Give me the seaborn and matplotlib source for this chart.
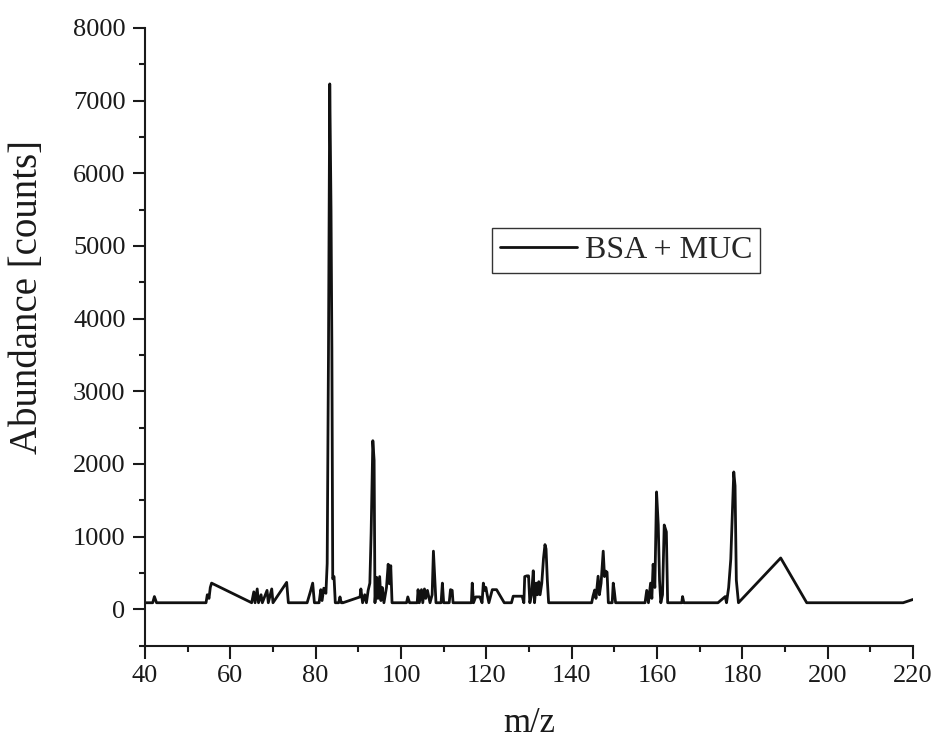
import numpy as np
import pandas as pd
import matplotlib
matplotlib.use("Agg")
import matplotlib.pyplot as plt
from matplotlib.ticker import MultipleLocator
import seaborn as sns

# spectrum (m/z, counts)
mz = [40.0, 41.8, 42.2, 42.7, 54.3, 54.6, 55.0, 55.3, 55.6, 65.0,
      65.5, 65.8, 66.3, 66.6, 67.2, 67.5, 68.6, 68.9, 69.7, 70.0,
      73.2, 73.6, 78.0, 78.8, 79.3, 79.7, 80.8, 81.2, 81.5, 81.9,
      82.4, 82.7, 83.0, 83.3, 83.6, 83.8, 84.0, 84.3, 84.6, 85.4,
      85.7, 86.0, 86.4, 90.4, 90.6, 91.0, 91.5, 91.9, 92.3, 92.7,
      93.0, 93.4, 93.7, 93.9, 94.3, 94.6, 95.0, 95.3, 95.6, 96.0,
      96.6, 97.0, 97.3, 97.6, 97.9, 101.3, 101.6, 102.0, 103.8, 104.0,
      104.3, 104.8, 105.1, 105.5, 105.8, 106.2, 106.8, 107.3, 107.6, 107.9,
      108.2, 109.4, 109.7, 110.0, 111.3, 111.6, 112.0, 112.2, 116.5, 116.7,
      117.0, 117.5, 118.5, 119.0, 119.3, 119.6, 119.9, 120.2, 120.6, 121.4,
      122.4, 124.2, 125.9, 126.3, 128.4, 128.8, 129.0, 129.5, 129.9, 130.2,
      130.6, 131.0, 131.3, 131.7, 132.0, 132.3, 132.6, 133.0, 133.4, 133.75,
      134.0, 134.3, 134.6, 144.7, 145.0, 145.4, 145.7, 146.2, 146.5, 146.9,
      147.4, 147.7, 148.0, 148.3, 148.6, 149.5, 149.75, 150.0, 150.3, 157.2,
      157.6, 158.0, 158.5, 158.8, 159.1, 159.5, 159.9, 160.3, 160.6, 160.9,
      161.3, 161.7, 162.2, 162.5, 165.8, 166.0, 166.3, 174.3, 176.0, 176.3,
      176.8, 177.3, 178.0, 178.3, 178.6, 179.1, 189.0, 195.1, 217.7, 220.0]
counts = [90, 90, 175, 90, 90, 200, 150, 300, 360, 90,
          240, 90, 280, 90, 200, 90, 260, 90, 280, 90,
          370, 90, 90, 250, 360, 90, 90, 270, 120, 290,
          220, 630, 3500, 7230, 5500, 3600, 420, 450, 90, 90,
          170, 90, 90, 170, 280, 90, 200, 90, 260, 360,
          1050, 2320, 2050, 90, 440, 150, 450, 120, 300, 90,
          300, 620, 350, 600, 90, 90, 170, 90, 90, 270,
          90, 270, 90, 280, 150, 260, 90, 200, 800, 450,
          90, 90, 360, 90, 90, 270, 260, 90, 90, 360,
          90, 170, 170, 90, 360, 260, 300, 200, 90, 270,
          270, 90, 90, 180, 180, 90, 450, 460, 460, 90,
          200, 530, 90, 360, 200, 380, 200, 360, 700, 890,
          830, 400, 90, 90, 180, 265, 150, 455, 200, 360,
          800, 450, 525, 510, 90, 90, 360, 250, 90, 90,
          260, 90, 360, 150, 620, 300, 1615, 1160, 400, 90,
          200, 1160, 1065, 90, 90, 175, 90, 90, 175, 90,
          300, 690, 1890, 1700, 400, 90, 706, 90, 90, 135]
series_name = "BSA + MUC"

df = pd.DataFrame({"m/z": mz, "Abundance": counts})

sns.set_style("ticks")
plt.rcParams["font.family"] = ["Liberation Serif", "DejaVu Serif"]

fig = plt.figure(figsize=(9.38, 7.42), dpi=100)
ax = fig.add_axes([0.1546, 0.1299, 0.8187, 0.8324])

sns.lineplot(data=df, x="m/z", y="Abundance", estimator=None, sort=False,
             color="#111111", linewidth=2.0, label=series_name, ax=ax)

ax.set_xlim(40, 220)
ax.set_ylim(-500, 8000)
ax.xaxis.set_major_locator(MultipleLocator(20))
ax.xaxis.set_minor_locator(MultipleLocator(10))
ax.yaxis.set_major_locator(MultipleLocator(1000))
ax.yaxis.set_minor_locator(MultipleLocator(500))

sns.despine(ax=ax)
for s in ["left", "bottom"]:
    ax.spines[s].set_linewidth(1.5)
    ax.spines[s].set_color("#1a1a1a")

ax.tick_params(which="major", direction="out", length=9, width=1.5,
               labelsize=19, pad=5, colors="#1a1a1a")
ax.tick_params(which="minor", direction="out", length=4.5, width=1.5,
               colors="#1a1a1a")

ax.set_xlabel("m/z", fontsize=25, labelpad=14, color="#1a1a1a")
ax.set_ylabel("Abundance [counts]", fontsize=28, color="#1a1a1a")
ax.yaxis.set_label_coords(-0.129, 0.564)

leg = ax.legend(loc="upper left", bbox_to_anchor=(0.452, 0.676),
                borderaxespad=0, fontsize=23, frameon=True, fancybox=False,
                handlelength=2.4, handletextpad=0.25, borderpad=0.25,
                framealpha=1)
leg.get_frame().set_edgecolor("#333333")
leg.get_frame().set_linewidth(1.0)

fig.savefig("out.png", dpi=100)
